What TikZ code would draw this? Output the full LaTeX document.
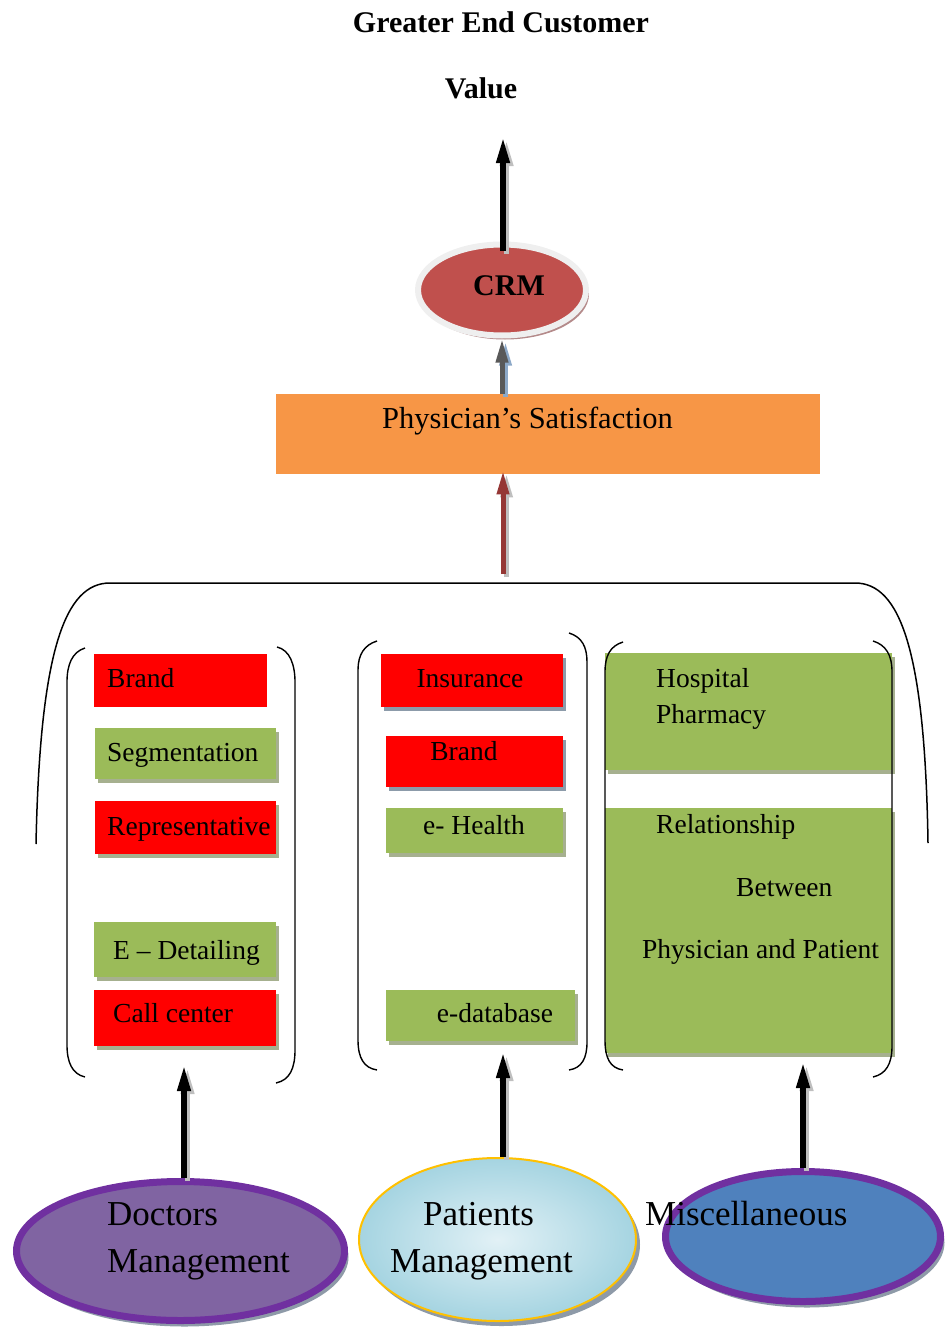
\documentclass[tikz,border=0pt]{standalone}
\usepackage{fontspec}
\setmainfont{Liberation Serif}
\usetikzlibrary{arrows.meta,shapes.geometric,shadows}

\definecolor{crmred}{HTML}{C0504D}
\definecolor{ringgray}{HTML}{EFEFEF}
\definecolor{crmshadow}{HTML}{B48A8A}
\definecolor{orangebox}{HTML}{F79646}
\definecolor{boxgreen}{HTML}{9BBB59}
\definecolor{shgreen}{HTML}{A6B08F}
\definecolor{shblue}{HTML}{8C9BAA}
\definecolor{docfill}{HTML}{8064A2}
\definecolor{purpleborder}{HTML}{7030A0}
\definecolor{miscfill}{HTML}{4F81BD}
\definecolor{patborder}{HTML}{FFC000}
\definecolor{patdark}{HTML}{A5D4E1}
\definecolor{patlight}{HTML}{E2F1F6}
\definecolor{arrowgray}{HTML}{595959}
\definecolor{arrowred}{HTML}{953735}
\definecolor{elshadow}{HTML}{8E9AA8}
\definecolor{arrshadow}{HTML}{BFBFBF}
\definecolor{arrshblue}{HTML}{8DA9C8}

\begin{document}
\begin{tikzpicture}[x=1pt,y=-1pt,
  txt/.style={inner sep=0pt, font=\fontsize{27.5}{33}\selectfont, anchor=base west},
  ctxt/.style={txt, anchor=base},
  big/.style={inner sep=0pt, font=\fontsize{35}{42}\selectfont, anchor=base west},
  rbox/.style={rectangle, inner sep=0pt, anchor=north west},
  shbox/.style={rbox, drop shadow={shadow xshift=3pt, shadow yshift=-4pt, fill=#1, opacity=1}},
  arr/.style={line width=5.5pt, -{Triangle[length=26pt,width=12.5pt]}},
  arrs/.style={line width=5pt, -{Triangle[length=24pt,width=11.5pt]}},
  shiftsh/.style={transform canvas={shift={(3.5pt,-3pt)}}},
  paren/.style={line width=1.4pt},
  ell/.style={ellipse, inner sep=0pt},
]
\useasboundingbox (0,0) rectangle (945,1327);

% title
\node[anchor=base, inner sep=0pt, font=\bfseries\fontsize{30}{36}\selectfont] (t1) at (501,33) {Greater End Customer};
\node[anchor=base, inner sep=0pt, font=\bfseries\fontsize{30}{36}\selectfont] (t2) at (481,99) {Value};

% CRM
\node[ell, fill=crmred, draw=ringgray, line width=6pt, minimum width=168pt, minimum height=91pt,
  drop shadow={shadow xshift=3pt, shadow yshift=-4pt, fill=crmshadow, opacity=1}] (crm) at (502,290) {};
\node[anchor=base, inner sep=0pt, font=\bfseries\fontsize{30}{36}\selectfont] (crmt) at (509,295) {CRM};
\coordinate (topTip) at (503,137);
\draw[arr, arrshadow, shiftsh] ([yshift=-9pt]crm.north -| topTip) -- (topTip);
\draw[arr, black] ([yshift=-9pt]crm.north -| topTip) -- (topTip);

% Physician's satisfaction
\node[rbox, fill=orangebox, minimum width=544pt, minimum height=80pt] (phys) at (276,394) {};
\node[txt, font=\fontsize{30.5}{36}\selectfont] (physt) at (382,428) {Physician’s Satisfaction};
\draw[arrs, arrshblue, shiftsh] (crm.south |- phys.north) -- (crm.south);
\draw[arrs, arrowgray] (crm.south |- phys.north) -- (crm.south);
\coordinate (a3s) at (503,574);
\draw[arrs, arrshadow, shiftsh] (a3s) -- ([yshift=4pt]a3s |- phys.south);
\draw[arrs, arrowred] (a3s) -- ([yshift=4pt]a3s |- phys.south);

% big bracket
\draw[line width=1.5pt] (36,844) .. controls (40,650) and (65,583) .. (110,583) -- (855,583)
  .. controls (900,583) and (925,650) .. (928,843);

% column 1 boxes
\node[rbox, fill=red, minimum width=173pt, minimum height=53pt] (b11) at (94,654) {};
\node[shbox=shgreen, fill=boxgreen, minimum width=181pt, minimum height=51pt] (b12) at (95,728) {};
\node[shbox=shgreen, fill=red, minimum width=181pt, minimum height=53pt] (b13) at (95,801) {};
\node[shbox=shgreen, fill=boxgreen, minimum width=182pt, minimum height=55pt] (b14) at (94,922) {};
\node[shbox=shgreen, fill=red, minimum width=182pt, minimum height=56pt] (b15) at (94,990) {};
\node[txt] (t11) at (107,687) {Brand};
\node[txt] (t12) at (107,761) {Segmentation};
\node[txt] (t13) at (107,835) {Representative};
\node[txt] (t14) at (113,959) {E – Detailing};
\node[txt] (t15) at (113,1022) {Call center};

% column 2 boxes
\node[shbox=shblue, fill=red, minimum width=182pt, minimum height=53pt] (b21) at (381,654) {};
\node[shbox=shblue, fill=red, minimum width=177pt, minimum height=51pt] (b22) at (386,736) {};
\node[shbox=shgreen, fill=boxgreen, minimum width=177pt, minimum height=45pt] (b23) at (386,808) {};
\node[shbox=shgreen, fill=boxgreen, minimum width=189pt, minimum height=51pt] (b24) at (386,990) {};
\node[ctxt] (t21) at (470,687) {Insurance};
\node[ctxt] (t22) at (464,760) {Brand};
\node[ctxt] (t23) at (474,834) {e- Health};
\node[ctxt] (t24) at (495,1022) {e-database};

% column 3 boxes
\node[shbox=shgreen, fill=boxgreen, minimum width=287pt, minimum height=117pt] (b31) at (605,653) {};
\node[shbox=shgreen, fill=boxgreen, minimum width=287pt, minimum height=245pt] (b32) at (605,808) {};
\node[txt] (t31) at (656,687) {Hospital};
\node[txt] (t32) at (656,723) {Pharmacy};
\node[txt] (t33) at (656,833) {Relationship};
\node[txt] (t34) at (736,896) {Between};
\node[txt] (t35) at (642,958) {Physician and Patient};

% parentheses
\draw[paren] (85,648) .. controls (72,652) and (67,665) .. (67,682) -- (67,1045) .. controls (67,1062) and (72,1074) .. (85,1077);
\draw[paren] (277,647) .. controls (290,650) and (295,665) .. (295,682) -- (295,1050) .. controls (295,1068) and (290,1080) .. (276,1083);
\draw[paren] (377,641) .. controls (364,645) and (358,655) .. (358,670) -- (358,1040) .. controls (358,1058) and (364,1068) .. (377,1070);
\draw[paren] (569,633) .. controls (582,637) and (587,647) .. (587,662) -- (587,1042) .. controls (587,1058) and (582,1068) .. (569,1070);
\draw[paren] (623,642) .. controls (610,646) and (605,656) .. (605,672) -- (605,1040) .. controls (605,1058) and (610,1068) .. (623,1070);
\draw[paren] (873,641) .. controls (886,645) and (892,655) .. (892,672) -- (892,1046) .. controls (892,1064) and (886,1074) .. (873,1077);

% bottom ellipses
\node[ell, fill=docfill, draw=purpleborder, line width=7pt, minimum width=328pt, minimum height=139pt,
  drop shadow={shadow xshift=4pt, shadow yshift=-6pt, fill=elshadow, opacity=1}] (doc) at (180.5,1251) {};
\node[ell, draw=patborder, line width=2pt, inner color=patlight, outer color=patdark, minimum width=277pt, minimum height=163pt,
  drop shadow={shadow xshift=4pt, shadow yshift=-5pt, fill=elshadow, opacity=1}] (pat) at (497.5,1239.5) {};
\node[ell, fill=miscfill, draw=purpleborder, line width=7pt, minimum width=275pt, minimum height=130pt,
  drop shadow={shadow xshift=4pt, shadow yshift=-6pt, fill=elshadow, opacity=1}] (misc) at (803,1236.5) {};

\coordinate (tipA) at (184,1065);
\coordinate (tipB) at (503,1052);
\coordinate (tipC) at (803,1062);
\draw[arr, arrshadow, shiftsh] (tipA |- doc.north) -- (tipA);
\draw[arr, black] (tipA |- doc.north) -- (tipA);
\draw[arr, arrshadow, shiftsh] (tipB |- pat.north) -- (tipB);
\draw[arr, black] (tipB |- pat.north) -- (tipB);
\draw[arr, arrshadow, shiftsh] (tipC |- misc.north) -- (tipC);
\draw[arr, black] (tipC |- misc.north) -- (tipC);

\node[big] (td1) at (107,1225) {Doctors};
\node[big] (td2) at (107,1272) {Management};
\node[big] (tp1) at (423,1225) {Patients};
\node[big] (tp2) at (390,1272) {Management};
\node[big] (tm) at (645,1225) {Miscellaneous};
\end{tikzpicture}
\end{document}
